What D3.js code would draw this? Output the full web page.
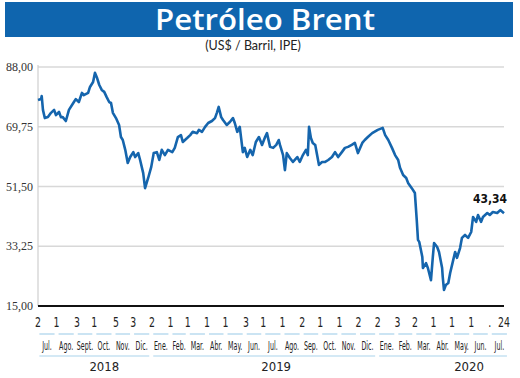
<!DOCTYPE html>
<html>
<head>
<meta charset="utf-8">
<script src="https://cdnjs.cloudflare.com/ajax/libs/d3/7.8.5/d3.min.js"></script>
<style>
  body { margin: 0; background: #fff; }
  svg { display: block; }
</style>
</head>
<body>
<svg id="chart"></svg>
<script>
// Brent crude, US$ per barrel
const dates = [
  '2018-07-02','2018-07-07','2018-07-08','2018-07-10','2018-07-13','2018-07-18','2018-07-23','2018-07-28','2018-07-31',
  '2018-08-05','2018-08-08','2018-08-11','2018-08-16','2018-08-21','2018-08-28','2018-09-01','2018-09-06','2018-09-11',
  '2018-09-14','2018-09-21','2018-09-24','2018-09-29','2018-10-02','2018-10-05','2018-10-09','2018-10-13','2018-10-17',
  '2018-10-21','2018-10-25','2018-10-28','2018-10-31','2018-11-05','2018-11-10','2018-11-13','2018-11-16','2018-11-20',
  '2018-11-24','2018-11-28','2018-12-03','2018-12-06','2018-12-11','2018-12-14','2018-12-19','2018-12-22','2018-12-27',
  '2019-01-01','2019-01-05','2019-01-10','2019-01-14','2019-01-18','2019-01-23','2019-01-28','2019-02-04','2019-02-08',
  '2019-02-13','2019-02-18','2019-02-21','2019-02-28','2019-03-05','2019-03-09','2019-03-16','2019-03-19','2019-03-24',
  '2019-03-29','2019-04-03','2019-04-09','2019-04-14','2019-04-17','2019-04-20','2019-04-24','2019-04-27','2019-05-03',
  '2019-05-08','2019-05-13','2019-05-16','2019-05-20','2019-05-24','2019-05-29','2019-06-01','2019-06-05','2019-06-10',
  '2019-06-14','2019-06-19','2019-06-24','2019-06-29','2019-07-04','2019-07-07','2019-07-12','2019-07-17','2019-07-22',
  '2019-07-26','2019-07-28','2019-08-02','2019-08-05','2019-08-08','2019-08-13','2019-08-18','2019-08-25','2019-08-29',
  '2019-09-03','2019-09-08','2019-09-11','2019-09-13','2019-09-16','2019-09-19','2019-09-23','2019-09-26','2019-09-29',
  '2019-10-04','2019-10-09','2019-10-14','2019-10-20','2019-10-25','2019-10-30','2019-11-05','2019-11-10','2019-11-15',
  '2019-11-21','2019-11-26','2019-12-01','2019-12-08','2019-12-12','2019-12-17','2019-12-24','2020-01-02','2020-01-10',
  '2020-01-14','2020-01-19','2020-01-25','2020-01-30','2020-02-04','2020-02-07','2020-02-12','2020-02-17','2020-02-20',
  '2020-02-26','2020-03-02','2020-03-05','2020-03-07','2020-03-09','2020-03-14','2020-03-15','2020-03-20','2020-03-23',
  '2020-03-28','2020-03-31','2020-04-02','2020-04-07','2020-04-10','2020-04-15','2020-04-16','2020-04-18','2020-04-21',
  '2020-04-25','2020-04-28','2020-05-03','2020-05-06','2020-05-09','2020-05-14','2020-05-17','2020-05-22','2020-05-27',
  '2020-06-01','2020-06-04','2020-06-09','2020-06-12','2020-06-17','2020-06-20','2020-06-27','2020-07-01','2020-07-06',
  '2020-07-13','2020-07-18','2020-07-24'
];
const prices = [
  77.9, 78.2, 79.1, 74.9, 72.4, 72.7, 74.0, 74.9, 73.3,
  74.3, 72.7, 72.7, 71.5, 74.9, 77.0, 78.2, 77.3, 80.1,
  79.4, 80.1, 81.9, 83.4, 86.2, 84.9, 82.5, 81.0, 80.4,
  78.8, 77.3, 77.0, 74.0, 72.4, 70.3, 66.6, 65.7, 62.7,
  58.7, 60.5, 62.0, 60.5, 61.7, 59.6, 55.6, 51.0, 54.1,
  57.5, 61.7, 62.0, 59.6, 62.7, 61.1, 62.7, 62.0, 63.3,
  66.6, 67.2, 65.1, 66.3, 67.2, 68.2, 67.8, 68.8, 68.2,
  69.7, 70.9, 71.5, 72.4, 74.0, 75.8, 72.7, 71.8, 70.3,
  71.2, 72.4, 70.9, 68.2, 69.7, 62.0, 63.3, 60.5, 62.7,
  61.1, 65.1, 66.6, 64.2, 66.6, 67.8, 63.6, 63.3, 64.2,
  65.7, 64.2, 61.1, 56.5, 61.7, 60.2, 59.0, 60.5, 59.0,
  61.1, 62.7, 61.1, 69.7, 66.3, 64.8, 64.2, 61.1, 58.1,
  59.0, 59.0, 59.6, 60.5, 62.0, 60.5, 62.0, 63.3, 63.6,
  64.2, 64.8, 61.7, 64.8, 65.7, 66.6, 67.8, 68.8, 69.4,
  67.2, 65.7, 63.3, 61.1, 59.6, 57.2, 55.0, 54.1, 52.6,
  51.0, 49.5, 41.3, 35.2, 34.6, 30.0, 26.6, 28.1, 26.6,
  22.9, 30.0, 34.2, 33.0, 31.5, 26.6, 23.9, 19.9, 21.4,
  22.0, 25.1, 29.1, 31.5, 29.7, 32.7, 35.8, 36.7, 35.8,
  37.6, 42.2, 40.7, 42.8, 40.7, 42.2, 43.4, 42.8, 43.7,
  43.4, 44.3, 43.34
];
const lastLabel = '43,34';

const yTicks = [15, 33.25, 51.5, 69.75, 88];

// first quoted day of each month on the x axis, plus the last day
const tickDates = [
  '2018-07-02','2018-08-01','2018-09-03','2018-10-01','2018-11-05','2018-12-03',
  '2019-01-02','2019-02-01','2019-03-01','2019-04-01','2019-05-01','2019-06-03',
  '2019-07-01','2019-08-01','2019-09-02','2019-10-01','2019-11-01','2019-12-02',
  '2020-01-02','2020-02-03','2020-03-02','2020-04-01','2020-05-01','2020-06-01',
  '2020-07-01','2020-07-24'
];
const tickLabels = ['2','1','3','1','5','3','2','1','1','1','1','3','1','1','2','1','1','2','2','3','2','1','1','1','.','24'];

const months = ['Jul.','Ago.','Sept.','Oct.','Nov.','Dic.',
  'Ene.','Feb.','Mar.','Abr.','May.','Jun.','Jul.','Ago.','Sep.','Oct.','Nov.','Dic.',
  'Ene.','Feb.','Mar.','Abr.','May.','Jun.','Jul.'];
const monthStarts = [
  '2018-07-01','2018-08-01','2018-09-01','2018-10-01','2018-11-01','2018-12-01',
  '2019-01-01','2019-02-01','2019-03-01','2019-04-01','2019-05-01','2019-06-01',
  '2019-07-01','2019-08-01','2019-09-01','2019-10-01','2019-11-01','2019-12-01',
  '2020-01-01','2020-02-01','2020-03-01','2020-04-01','2020-05-01','2020-06-01',
  '2020-07-01','2020-08-01'
];
const years = ['2018','2019','2020'];
const yearStarts = ['2018-07-01','2019-01-01','2020-01-01','2020-08-01'];

const width = 520, height = 378;
const margin = {top: 67, right: 16, bottom: 72, left: 38};
const parse = d3.timeParse('%Y-%m-%d');
const fmt = d3.format(',.2f');
const comma = v => fmt(v).replace('.', ',');

const blue = '#0f65ae';
const lightBlue = '#a9d3ec';
const narrow = '"Liberation Sans Narrow", "DejaVu Sans Condensed", sans-serif';

const data = dates.map((d, i) => ({date: parse(d), value: prices[i]}));

const svg = d3.select('#chart').attr('width', width).attr('height', height);

// title banner
svg.append('rect')
  .attr('x', 5).attr('y', 2).attr('width', 508).attr('height', 35)
  .attr('fill', blue);
svg.append('text')
  .attr('x', 265).attr('y', 30)
  .attr('text-anchor', 'middle')
  .attr('font-family', '"Open Sans", Lato, sans-serif')
  .attr('font-weight', 600)
  .attr('font-size', 29)
  .attr('textLength', 220).attr('lengthAdjust', 'spacingAndGlyphs')
  .attr('fill', '#fff')
  .text('Petróleo Brent');
svg.append('text')
  .attr('x', 253).attr('y', 50)
  .attr('text-anchor', 'middle')
  .attr('font-family', 'Lato, "Open Sans", sans-serif')
  .attr('font-size', 12.5)
  .attr('fill', '#222')
  .text('(US$ / Barril, IPE)');

const x = d3.scaleTime()
  .domain([parse('2018-07-02'), parse('2020-07-24')])
  .range([margin.left, width - margin.right]);
const y = d3.scaleLinear()
  .domain([15, 88])
  .range([height - margin.bottom, margin.top]);

// grid
svg.append('g')
  .selectAll('line')
  .data(yTicks.slice(1))
  .enter().append('line')
  .attr('x1', margin.left).attr('x2', width - margin.right)
  .attr('y1', d => y(d)).attr('y2', d => y(d))
  .attr('stroke', '#d8d8d8').attr('stroke-width', 1.5);

svg.append('line')
  .attr('x1', margin.left).attr('x2', margin.left)
  .attr('y1', y(88) - 2).attr('y2', y(15))
  .attr('stroke', '#cfcfcf').attr('stroke-width', 1.2);

// y labels
svg.append('g')
  .selectAll('text')
  .data(yTicks)
  .enter().append('text')
  .attr('x', 33).attr('y', d => y(d) + 4)
  .attr('text-anchor', 'end')
  .attr('font-family', '"Liberation Serif", serif')
  .attr('font-size', 12)
  .attr('fill', '#333')
  .text(d => comma(d));

// bottom axis line
svg.append('line')
  .attr('x1', margin.left).attr('x2', width - margin.right)
  .attr('y1', y(15)).attr('y2', y(15))
  .attr('stroke', '#111').attr('stroke-width', 2);

// price line
const line = d3.line()
  .x(d => x(d.date))
  .y(d => y(d.value));

svg.append('path')
  .datum(data)
  .attr('fill', 'none')
  .attr('stroke', '#1565ad')
  .attr('stroke-width', 2.6)
  .attr('stroke-linejoin', 'round')
  .attr('d', line);

const last = data[data.length - 1];
svg.append('text')
  .attr('x', x(last.date) - 14).attr('y', y(last.value) - 10)
  .attr('text-anchor', 'middle')
  .attr('font-family', narrow)
  .attr('font-weight', 'bold')
  .attr('font-size', 12)
  .attr('fill', '#111')
  .text(lastLabel);

// condensed text helper: squeeze horizontally around its anchor
function squeeze(sel, sx, sy) {
  sel.attr('transform', function () {
    const t = d3.select(this);
    const px = +t.attr('x'), py = +t.attr('y');
    return `translate(${px},${py}) scale(${sx},${sy}) translate(${-px},${-py})`;
  });
}

// day numbers
svg.append('g')
  .selectAll('text')
  .data(tickDates)
  .enter().append('text')
  .attr('x', d => x(parse(d)))
  .attr('y', 327)
  .attr('text-anchor', 'middle')
  .attr('font-family', narrow)
  .attr('font-size', 13)
  .attr('fill', '#222')
  .text((d, i) => tickLabels[i])
  .call(squeeze, 0.8, 1.12);

// months
const xl = d => Math.max(33, Math.min(512, x(parse(d))));
const monthG = svg.append('g');
monthG.selectAll('line')
  .data(months)
  .enter().append('line')
  .attr('x1', (d, i) => xl(monthStarts[i]) + 2)
  .attr('x2', (d, i) => xl(monthStarts[i + 1]) - 2)
  .attr('y1', 334).attr('y2', 334)
  .attr('stroke', lightBlue).attr('stroke-width', 1.2);
monthG.selectAll('text')
  .data(months)
  .enter().append('text')
  .attr('x', (d, i) => (xl(monthStarts[i]) + xl(monthStarts[i + 1])) / 2)
  .attr('y', 350)
  .attr('text-anchor', 'middle')
  .attr('font-family', narrow)
  .attr('font-size', 11)
  .attr('fill', '#222')
  .text(d => d)
  .call(squeeze, 0.64, 1.1);

// years
const yearG = svg.append('g');
yearG.selectAll('line')
  .data(years)
  .enter().append('line')
  .attr('x1', (d, i) => xl(yearStarts[i]) + 2)
  .attr('x2', (d, i) => xl(yearStarts[i + 1]) - 2)
  .attr('y1', 356).attr('y2', 356)
  .attr('stroke', lightBlue).attr('stroke-width', 1.2);
yearG.selectAll('text')
  .data(years)
  .enter().append('text')
  .attr('x', (d, i) => (xl(yearStarts[i]) + xl(yearStarts[i + 1])) / 2 + [10, 12, 26][i])
  .attr('y', 371)
  .attr('text-anchor', 'middle')
  .attr('font-family', narrow)
  .attr('font-size', 13)
  .attr('fill', '#222')
  .text(d => d);
</script>
</body>
</html>
